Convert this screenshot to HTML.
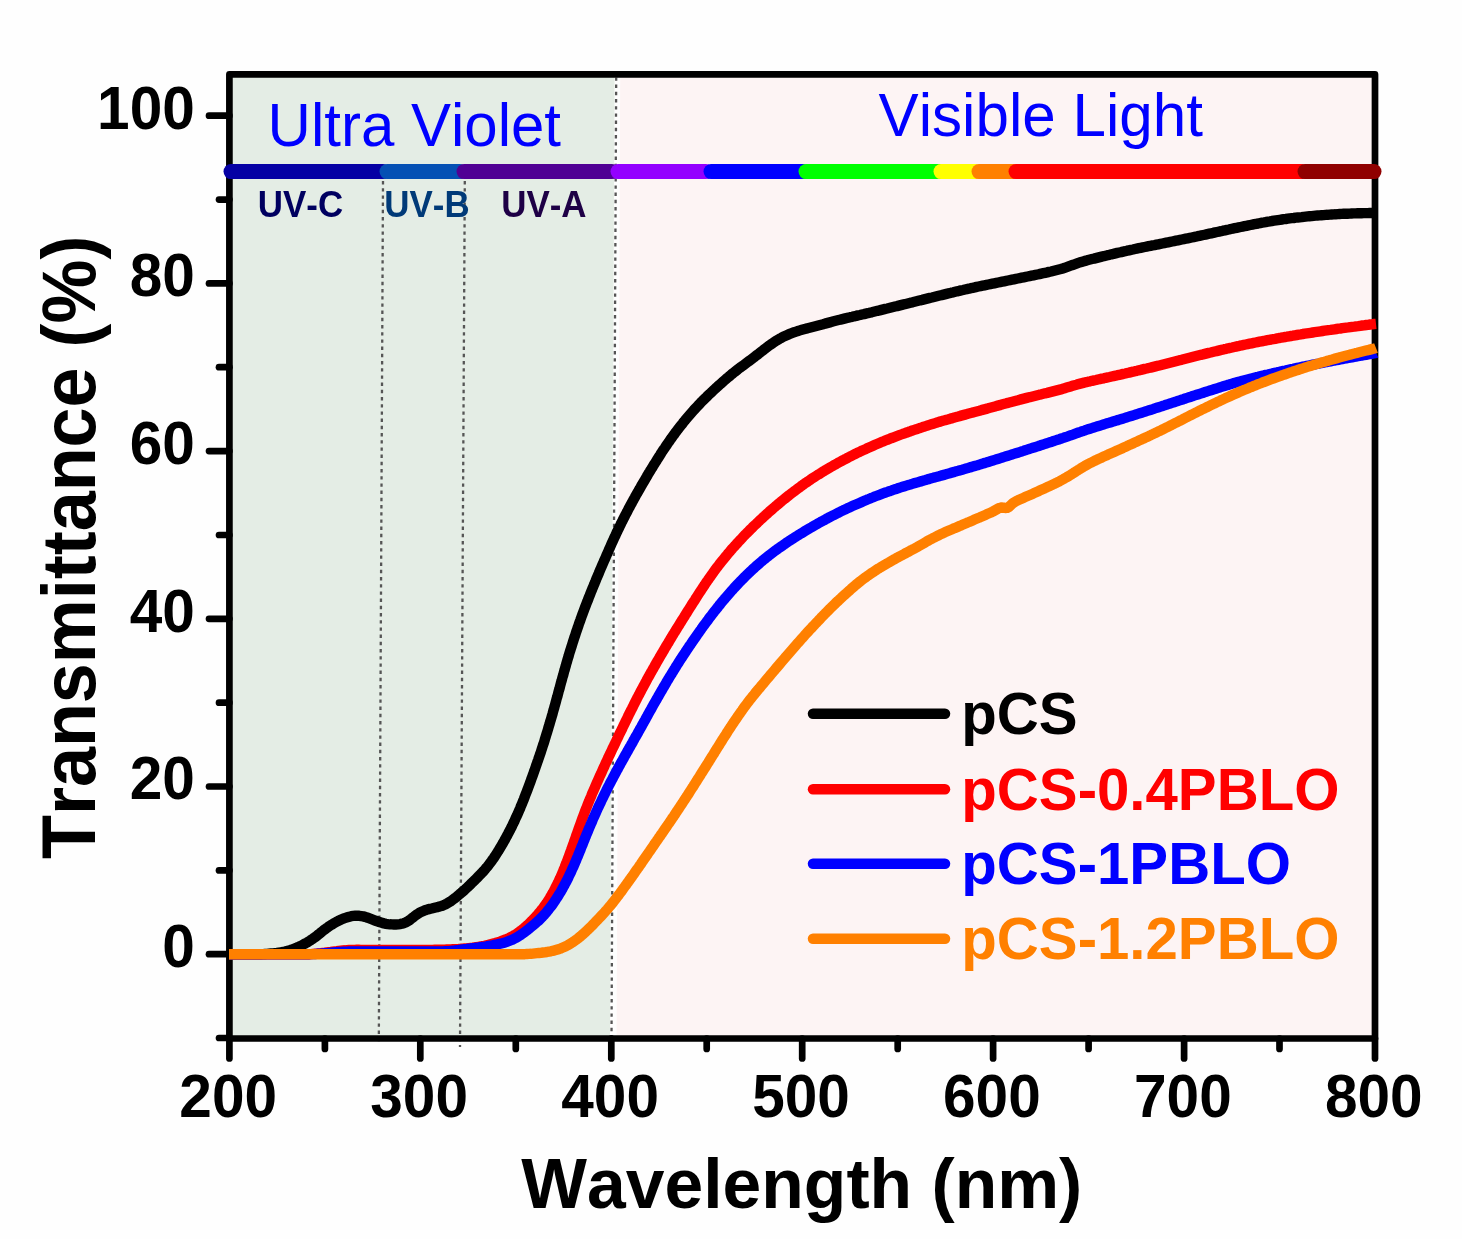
<!DOCTYPE html>
<html lang="en"><head><meta charset="utf-8"><title>Transmittance vs Wavelength</title>
<style>html,body{margin:0;padding:0;background:#fefefe;}body{width:1462px;height:1239px;overflow:hidden;}svg{display:block;}text{font-family:"Liberation Sans",Arial,Helvetica,sans-serif;font-kerning:none;}.b{font-weight:bold;}</style>
</head><body>
<svg width="1462" height="1239" viewBox="0 0 1462 1239">
<rect x="0" y="0" width="1462" height="1239" fill="#fefefe"/>
<polygon points="229.4,74.4 614.6,74.4 610.0,1038.5 229.4,1038.5" fill="#e4ede5"/>
<polygon points="620.2,74.4 1375.0,74.4 1375.0,1038.5 616.6,1038.5" fill="#fdf4f4"/>
<line x1="383.0" y1="181" x2="378.8" y2="1045" stroke="#555" stroke-width="2.3" stroke-dasharray="3.4 3.8"/>
<line x1="464.8" y1="181" x2="460" y2="1047" stroke="#555" stroke-width="2.3" stroke-dasharray="3.4 3.8"/>
<line x1="616.2" y1="77.4" x2="611.5" y2="1038" stroke="#555" stroke-width="2.3" stroke-dasharray="3.4 3.8"/>
<g stroke="#000" stroke-width="6.7" fill="none" stroke-linecap="round">
<rect x="229.4" y="74.4" width="1145.6" height="964.1" stroke-linejoin="round"/>
<line x1="209" y1="954.2" x2="229.4" y2="954.2"/>
<line x1="209" y1="786.5" x2="229.4" y2="786.5"/>
<line x1="209" y1="618.8" x2="229.4" y2="618.8"/>
<line x1="209" y1="451.1" x2="229.4" y2="451.1"/>
<line x1="209" y1="283.4" x2="229.4" y2="283.4"/>
<line x1="209" y1="115.7" x2="229.4" y2="115.7"/>
<line x1="219" y1="1038.0" x2="229.4" y2="1038.0"/>
<line x1="219" y1="870.4" x2="229.4" y2="870.4"/>
<line x1="219" y1="702.7" x2="229.4" y2="702.7"/>
<line x1="219" y1="535.0" x2="229.4" y2="535.0"/>
<line x1="219" y1="367.2" x2="229.4" y2="367.2"/>
<line x1="219" y1="199.6" x2="229.4" y2="199.6"/>
<line x1="229.4" y1="1038.5" x2="229.4" y2="1058.5"/>
<line x1="420.3" y1="1038.5" x2="420.3" y2="1058.5"/>
<line x1="611.3" y1="1038.5" x2="611.3" y2="1058.5"/>
<line x1="802.2" y1="1038.5" x2="802.2" y2="1058.5"/>
<line x1="993.1" y1="1038.5" x2="993.1" y2="1058.5"/>
<line x1="1184.1" y1="1038.5" x2="1184.1" y2="1058.5"/>
<line x1="1375.0" y1="1038.5" x2="1375.0" y2="1058.5"/>
<line x1="324.9" y1="1038.5" x2="324.9" y2="1049"/>
<line x1="515.8" y1="1038.5" x2="515.8" y2="1049"/>
<line x1="706.7" y1="1038.5" x2="706.7" y2="1049"/>
<line x1="897.7" y1="1038.5" x2="897.7" y2="1049"/>
<line x1="1088.6" y1="1038.5" x2="1088.6" y2="1049"/>
<line x1="1279.5" y1="1038.5" x2="1279.5" y2="1049"/>
</g>
<g stroke-width="15" stroke-linecap="round" fill="none">
<line x1="231" y1="171.6" x2="383" y2="171.6" stroke="#0500a4"/>
<line x1="387" y1="171.6" x2="460" y2="171.6" stroke="#0450b4"/>
<line x1="464" y1="171.6" x2="612" y2="171.6" stroke="#500094"/>
<line x1="618" y1="171.6" x2="706" y2="171.6" stroke="#9400ff"/>
<line x1="711" y1="171.6" x2="803" y2="171.6" stroke="#0000ff"/>
<line x1="806" y1="171.6" x2="940" y2="171.6" stroke="#00ff00"/>
<line x1="941" y1="171.6" x2="976" y2="171.6" stroke="#ffff00"/>
<line x1="979" y1="171.6" x2="1014" y2="171.6" stroke="#ff8000"/>
<line x1="1016" y1="171.6" x2="1302" y2="171.6" stroke="#ff0000"/>
<line x1="1305" y1="171.6" x2="1374" y2="171.6" stroke="#900000"/>
</g>
<g fill="none" stroke-width="10.4" stroke-linejoin="round" stroke-linecap="butt">
<path d="M229.0,954.3 L231.0,954.3 L233.0,954.3 L235.0,954.3 L237.0,954.3 L239.0,954.3 L241.0,954.3 L243.0,954.3 L245.0,954.3 L247.0,954.3 L249.0,954.3 L251.0,954.3 L253.0,954.3 L255.0,954.3 L257.0,954.3 L259.0,954.3 L261.0,954.2 L263.0,954.1 L265.0,954.0 L267.0,953.9 L269.0,953.7 L271.0,953.5 L273.0,953.3 L274.9,953.1 L276.9,952.9 L278.9,952.6 L280.9,952.3 L282.9,952.0 L284.8,951.6 L286.8,951.1 L288.7,950.6 L290.6,950.0 L292.5,949.3 L294.4,948.6 L296.2,947.9 L298.0,947.1 L299.9,946.2 L301.7,945.4 L303.4,944.4 L305.2,943.5 L307.0,942.5 L308.7,941.5 L310.4,940.4 L312.0,939.3 L313.7,938.2 L315.3,937.0 L316.9,935.8 L318.4,934.5 L320.0,933.3 L321.5,932.0 L323.1,930.7 L324.7,929.5 L326.3,928.3 L327.9,927.2 L329.5,926.0 L331.2,924.9 L332.9,923.9 L334.6,922.8 L336.4,921.9 L338.1,921.0 L339.9,920.1 L341.8,919.3 L343.6,918.5 L345.5,917.9 L347.4,917.3 L349.4,916.7 L351.3,916.2 L353.3,915.9 L355.3,915.7 L357.2,915.7 L359.2,915.8 L361.2,916.1 L363.2,916.4 L365.1,916.9 L367.0,917.5 L368.9,918.2 L370.8,918.9 L372.7,919.6 L374.5,920.3 L376.4,921.0 L378.3,921.7 L380.2,922.3 L382.1,922.9 L384.0,923.4 L386.0,923.8 L387.9,924.1 L389.9,924.3 L391.9,924.4 L393.9,924.5 L396.0,924.5 L398.0,924.4 L399.9,924.1 L401.9,923.7 L403.8,923.2 L405.6,922.5 L407.3,921.5 L409.0,920.5 L410.6,919.3 L412.2,918.0 L413.8,916.8 L415.4,915.5 L417.0,914.4 L418.7,913.3 L420.4,912.3 L422.2,911.5 L424.0,910.7 L425.9,910.0 L427.8,909.4 L429.8,908.9 L431.7,908.5 L433.7,908.0 L435.6,907.5 L437.6,907.1 L439.5,906.5 L441.4,906.0 L443.3,905.3 L445.1,904.5 L446.9,903.6 L448.6,902.6 L450.3,901.6 L451.9,900.4 L453.5,899.2 L455.1,898.0 L456.7,896.7 L458.2,895.4 L459.7,894.1 L461.3,892.8 L462.8,891.5 L464.3,890.2 L465.8,888.8 L467.2,887.5 L468.7,886.1 L470.1,884.7 L471.5,883.3 L473.0,881.9 L474.4,880.5 L475.8,879.1 L477.2,877.7 L478.6,876.3 L479.9,874.9 L481.3,873.5 L482.6,872.1 L484.0,870.6 L485.3,869.1 L486.5,867.6 L487.8,866.1 L489.0,864.5 L490.2,862.9 L491.4,861.3 L492.5,859.7 L493.7,858.1 L494.8,856.4 L495.9,854.7 L497.0,853.0 L498.1,851.3 L499.1,849.6 L500.2,847.8 L501.2,846.1 L502.2,844.4 L503.2,842.6 L504.2,840.9 L505.2,839.1 L506.1,837.4 L507.1,835.6 L508.0,833.9 L508.9,832.1 L509.9,830.3 L510.8,828.5 L511.7,826.8 L512.5,825.0 L513.4,823.2 L514.3,821.4 L515.1,819.5 L515.9,817.7 L516.8,815.9 L517.6,814.1 L518.4,812.2 L519.2,810.4 L520.0,808.6 L520.7,806.7 L521.5,804.9 L522.3,803.0 L523.0,801.1 L523.8,799.3 L524.5,797.4 L525.2,795.5 L525.9,793.7 L526.7,791.8 L527.4,789.9 L528.1,788.0 L528.8,786.2 L529.5,784.3 L530.2,782.4 L530.9,780.5 L531.5,778.6 L532.2,776.8 L532.9,774.9 L533.6,773.0 L534.2,771.1 L534.9,769.2 L535.6,767.3 L536.2,765.4 L536.9,763.5 L537.5,761.6 L538.2,759.8 L538.8,757.9 L539.5,756.0 L540.1,754.1 L540.8,752.2 L541.4,750.3 L542.0,748.4 L542.6,746.5 L543.2,744.6 L543.9,742.7 L544.5,740.8 L545.0,738.9 L545.6,736.9 L546.2,735.0 L546.8,733.1 L547.4,731.2 L548.0,729.3 L548.5,727.4 L549.1,725.5 L549.7,723.5 L550.2,721.6 L550.8,719.7 L551.4,717.8 L551.9,715.9 L552.5,713.9 L553.0,712.0 L553.5,710.1 L554.1,708.2 L554.6,706.2 L555.2,704.3 L555.7,702.4 L556.2,700.4 L556.7,698.5 L557.3,696.6 L557.8,694.7 L558.3,692.7 L558.8,690.8 L559.4,688.9 L559.9,686.9 L560.4,685.0 L560.9,683.1 L561.5,681.1 L562.0,679.2 L562.5,677.3 L563.1,675.4 L563.6,673.4 L564.1,671.5 L564.7,669.6 L565.2,667.7 L565.8,665.7 L566.3,663.8 L566.9,661.9 L567.4,660.0 L568.0,658.0 L568.6,656.1 L569.1,654.2 L569.7,652.3 L570.3,650.4 L570.9,648.5 L571.5,646.6 L572.1,644.7 L572.7,642.8 L573.3,640.9 L573.9,639.0 L574.5,637.1 L575.2,635.2 L575.8,633.3 L576.4,631.4 L577.1,629.5 L577.7,627.6 L578.4,625.7 L579.0,623.8 L579.7,621.9 L580.4,620.0 L581.0,618.2 L581.7,616.3 L582.4,614.4 L583.1,612.5 L583.8,610.7 L584.5,608.8 L585.2,606.9 L585.9,605.1 L586.6,603.2 L587.4,601.3 L588.1,599.5 L588.8,597.6 L589.6,595.7 L590.3,593.9 L591.0,592.0 L591.8,590.2 L592.5,588.3 L593.3,586.5 L594.1,584.6 L594.8,582.8 L595.6,580.9 L596.3,579.1 L597.1,577.2 L597.9,575.4 L598.7,573.5 L599.4,571.7 L600.2,569.8 L601.0,568.0 L601.8,566.2 L602.6,564.3 L603.4,562.5 L604.2,560.6 L605.0,558.8 L605.8,557.0 L606.6,555.1 L607.4,553.3 L608.2,551.5 L609.0,549.6 L609.8,547.8 L610.6,546.0 L611.4,544.2 L612.2,542.3 L613.1,540.5 L613.9,538.7 L614.7,536.9 L615.6,535.1 L616.4,533.2 L617.3,531.4 L618.1,529.6 L619.0,527.8 L619.9,526.0 L620.8,524.2 L621.6,522.4 L622.5,520.7 L623.4,518.9 L624.3,517.1 L625.2,515.3 L626.2,513.5 L627.1,511.8 L628.0,510.0 L628.9,508.2 L629.9,506.5 L630.8,504.7 L631.8,503.0 L632.7,501.2 L633.7,499.4 L634.7,497.7 L635.6,495.9 L636.6,494.2 L637.6,492.5 L638.6,490.7 L639.6,489.0 L640.6,487.2 L641.5,485.5 L642.5,483.8 L643.6,482.0 L644.6,480.3 L645.6,478.6 L646.6,476.9 L647.6,475.1 L648.6,473.4 L649.7,471.7 L650.7,470.0 L651.8,468.3 L652.8,466.6 L653.8,464.9 L654.9,463.2 L656.0,461.5 L657.0,459.8 L658.1,458.1 L659.2,456.4 L660.3,454.7 L661.3,453.0 L662.4,451.3 L663.5,449.6 L664.7,448.0 L665.8,446.3 L666.9,444.7 L668.0,443.0 L669.2,441.4 L670.3,439.7 L671.5,438.1 L672.6,436.5 L673.8,434.9 L675.0,433.2 L676.2,431.6 L677.4,430.0 L678.6,428.5 L679.8,426.9 L681.0,425.3 L682.3,423.8 L683.5,422.2 L684.8,420.7 L686.0,419.1 L687.3,417.6 L688.6,416.1 L689.9,414.6 L691.2,413.1 L692.5,411.6 L693.8,410.1 L695.2,408.6 L696.5,407.2 L697.9,405.7 L699.3,404.3 L700.6,402.8 L702.0,401.4 L703.4,400.0 L704.8,398.6 L706.3,397.2 L707.7,395.8 L709.1,394.4 L710.6,393.1 L712.0,391.7 L713.5,390.3 L714.9,389.0 L716.4,387.6 L717.9,386.3 L719.4,384.9 L720.9,383.6 L722.4,382.2 L723.9,380.9 L725.4,379.6 L726.9,378.3 L728.5,377.0 L730.0,375.7 L731.5,374.4 L733.1,373.1 L734.7,371.9 L736.3,370.6 L737.8,369.4 L739.4,368.2 L741.0,367.0 L742.7,365.8 L744.3,364.6 L745.9,363.4 L747.5,362.2 L749.1,361.0 L750.7,359.8 L752.3,358.6 L753.9,357.4 L755.4,356.2 L757.0,355.0 L758.6,353.8 L760.2,352.5 L761.7,351.3 L763.3,350.1 L764.9,348.8 L766.5,347.6 L768.1,346.4 L769.7,345.2 L771.3,344.1 L773.0,342.9 L774.6,341.8 L776.3,340.7 L778.0,339.7 L779.7,338.7 L781.5,337.8 L783.2,336.8 L785.0,336.0 L786.8,335.2 L788.7,334.4 L790.5,333.6 L792.4,332.9 L794.2,332.2 L796.1,331.6 L798.0,331.0 L799.9,330.4 L801.9,329.8 L803.8,329.3 L805.7,328.8 L807.6,328.2 L809.6,327.7 L811.5,327.2 L813.5,326.7 L815.4,326.2 L817.3,325.7 L819.2,325.2 L821.2,324.7 L823.1,324.2 L825.0,323.6 L826.9,323.1 L828.8,322.6 L830.8,322.1 L832.7,321.5 L834.6,321.0 L836.6,320.5 L838.5,320.0 L840.4,319.6 L842.4,319.1 L844.3,318.6 L846.3,318.1 L848.3,317.7 L850.2,317.2 L852.2,316.8 L854.1,316.3 L856.1,315.9 L858.0,315.4 L860.0,315.0 L861.9,314.5 L863.9,314.1 L865.9,313.6 L867.8,313.2 L869.8,312.7 L871.7,312.3 L873.6,311.8 L875.6,311.3 L877.5,310.8 L879.5,310.4 L881.4,309.9 L883.4,309.4 L885.3,308.9 L887.2,308.5 L889.2,308.0 L891.1,307.5 L893.1,307.0 L895.0,306.5 L897.0,306.1 L898.9,305.6 L900.8,305.1 L902.8,304.6 L904.7,304.2 L906.7,303.7 L908.6,303.2 L910.6,302.7 L912.5,302.3 L914.4,301.8 L916.4,301.3 L918.3,300.8 L920.3,300.3 L922.2,299.9 L924.1,299.4 L926.1,298.9 L928.0,298.4 L930.0,297.9 L931.9,297.5 L933.9,297.0 L935.8,296.5 L937.7,296.0 L939.7,295.5 L941.6,295.1 L943.6,294.6 L945.5,294.1 L947.5,293.6 L949.4,293.2 L951.3,292.7 L953.3,292.3 L955.2,291.8 L957.2,291.3 L959.1,290.9 L961.1,290.4 L963.0,290.0 L965.0,289.5 L966.9,289.1 L968.9,288.7 L970.8,288.2 L972.8,287.8 L974.7,287.4 L976.7,286.9 L978.6,286.5 L980.6,286.1 L982.6,285.7 L984.5,285.3 L986.5,284.9 L988.4,284.5 L990.4,284.1 L992.4,283.7 L994.3,283.3 L996.3,282.9 L998.2,282.5 L1000.2,282.1 L1002.2,281.7 L1004.1,281.3 L1006.1,280.9 L1008.0,280.5 L1010.0,280.1 L1012.0,279.7 L1013.9,279.3 L1015.9,278.9 L1017.8,278.5 L1019.8,278.1 L1021.7,277.7 L1023.7,277.3 L1025.7,276.9 L1027.6,276.5 L1029.6,276.1 L1031.5,275.7 L1033.5,275.3 L1035.4,274.9 L1037.4,274.5 L1039.3,274.1 L1041.3,273.6 L1043.3,273.2 L1045.2,272.8 L1047.2,272.4 L1049.1,271.9 L1051.1,271.5 L1053.0,271.0 L1055.0,270.5 L1056.9,270.0 L1058.9,269.5 L1060.8,269.0 L1062.8,268.4 L1064.7,267.8 L1066.7,267.1 L1068.6,266.4 L1070.6,265.7 L1072.5,265.0 L1074.5,264.3 L1076.4,263.6 L1078.4,262.9 L1080.3,262.3 L1082.3,261.7 L1084.2,261.1 L1086.2,260.6 L1088.1,260.0 L1090.1,259.5 L1092.0,259.0 L1094.0,258.6 L1095.9,258.1 L1097.8,257.6 L1099.8,257.1 L1101.7,256.6 L1103.7,256.2 L1105.6,255.7 L1107.6,255.2 L1109.5,254.8 L1111.5,254.3 L1113.4,253.9 L1115.4,253.4 L1117.3,252.9 L1119.3,252.5 L1121.2,252.1 L1123.2,251.6 L1125.1,251.2 L1127.1,250.7 L1129.0,250.3 L1131.0,249.9 L1132.9,249.5 L1134.9,249.0 L1136.8,248.6 L1138.8,248.2 L1140.7,247.8 L1142.7,247.4 L1144.7,247.0 L1146.6,246.6 L1148.6,246.2 L1150.5,245.8 L1152.5,245.4 L1154.5,245.1 L1156.4,244.7 L1158.4,244.3 L1160.4,243.9 L1162.3,243.5 L1164.3,243.1 L1166.2,242.7 L1168.2,242.3 L1170.2,241.9 L1172.1,241.5 L1174.1,241.1 L1176.0,240.7 L1178.0,240.3 L1180.0,239.9 L1181.9,239.5 L1183.9,239.1 L1185.8,238.7 L1187.8,238.3 L1189.8,237.9 L1191.7,237.5 L1193.7,237.1 L1195.6,236.7 L1197.6,236.2 L1199.5,235.8 L1201.5,235.4 L1203.4,235.0 L1205.4,234.6 L1207.4,234.1 L1209.3,233.7 L1211.3,233.3 L1213.2,232.9 L1215.2,232.4 L1217.1,232.0 L1219.1,231.6 L1221.0,231.2 L1223.0,230.7 L1225.0,230.3 L1226.9,229.9 L1228.9,229.5 L1230.8,229.0 L1232.8,228.6 L1234.7,228.2 L1236.7,227.8 L1238.6,227.4 L1240.6,227.0 L1242.6,226.6 L1244.5,226.2 L1246.5,225.8 L1248.4,225.4 L1250.4,225.0 L1252.4,224.6 L1254.3,224.2 L1256.3,223.8 L1258.2,223.5 L1260.2,223.1 L1262.2,222.7 L1264.1,222.4 L1266.1,222.0 L1268.1,221.7 L1270.0,221.4 L1272.0,221.0 L1274.0,220.7 L1276.0,220.4 L1277.9,220.1 L1279.9,219.8 L1281.9,219.5 L1283.8,219.2 L1285.8,219.0 L1287.8,218.7 L1289.8,218.4 L1291.8,218.2 L1293.8,218.0 L1295.7,217.7 L1297.7,217.5 L1299.7,217.3 L1301.7,217.1 L1303.7,216.8 L1305.7,216.6 L1307.7,216.4 L1309.6,216.2 L1311.6,216.1 L1313.6,215.9 L1315.6,215.7 L1317.6,215.5 L1319.6,215.4 L1321.6,215.2 L1323.6,215.1 L1325.6,214.9 L1327.6,214.8 L1329.6,214.6 L1331.6,214.5 L1333.6,214.4 L1335.6,214.3 L1337.6,214.1 L1339.6,214.0 L1341.6,213.9 L1343.6,213.8 L1345.6,213.7 L1347.6,213.7 L1349.6,213.6 L1351.6,213.5 L1353.6,213.4 L1355.6,213.4 L1357.6,213.3 L1359.6,213.2 L1361.6,213.2 L1363.6,213.1 L1365.6,213.1 L1367.6,213.1 L1369.6,213.0 L1371.6,213.0 L1373.6,213.0 L1375.5,213.0" stroke="#000"/>
<path d="M229.0,954.3 L231.0,954.3 L233.0,954.3 L235.0,954.3 L237.0,954.3 L239.0,954.3 L241.0,954.3 L243.0,954.3 L245.0,954.3 L247.0,954.3 L249.0,954.3 L251.0,954.3 L253.0,954.3 L255.0,954.3 L257.0,954.3 L259.0,954.3 L261.0,954.3 L263.0,954.3 L265.0,954.3 L267.0,954.3 L269.0,954.3 L271.0,954.3 L273.0,954.3 L275.0,954.3 L277.0,954.3 L279.0,954.3 L281.0,954.3 L283.0,954.3 L285.0,954.3 L287.0,954.3 L289.0,954.3 L291.0,954.3 L293.0,954.3 L295.0,954.3 L297.0,954.3 L299.0,954.3 L301.0,954.3 L303.0,954.3 L305.0,954.3 L307.0,954.2 L309.0,954.2 L311.0,954.1 L313.0,953.9 L315.0,953.8 L317.0,953.6 L319.0,953.4 L320.9,953.2 L322.9,952.9 L324.9,952.7 L326.9,952.4 L328.9,952.1 L330.9,951.9 L332.8,951.6 L334.8,951.3 L336.8,951.1 L338.8,950.8 L340.8,950.6 L342.8,950.4 L344.8,950.3 L346.8,950.1 L348.8,950.0 L350.7,949.9 L352.7,949.9 L354.7,949.9 L356.7,949.8 L358.7,949.8 L360.7,949.9 L362.7,949.9 L364.7,949.9 L366.7,949.9 L368.7,949.9 L370.7,949.9 L372.7,949.9 L374.7,949.9 L376.7,949.9 L378.7,949.9 L380.7,949.9 L382.7,949.9 L384.7,949.9 L386.7,949.9 L388.7,949.9 L390.7,949.9 L392.7,949.9 L394.7,949.9 L396.7,949.9 L398.7,949.9 L400.7,949.9 L402.7,949.9 L404.7,949.9 L406.7,949.9 L408.7,949.9 L410.7,949.9 L412.7,949.9 L414.7,949.9 L416.7,949.9 L418.7,949.9 L420.7,949.9 L422.7,949.9 L424.7,949.9 L426.7,949.9 L428.7,949.9 L430.7,949.9 L432.7,949.9 L434.7,949.8 L436.7,949.8 L438.7,949.8 L440.7,949.7 L442.7,949.6 L444.7,949.6 L446.7,949.5 L448.7,949.4 L450.7,949.4 L452.7,949.3 L454.7,949.2 L456.7,949.1 L458.7,949.0 L460.7,948.8 L462.7,948.7 L464.7,948.5 L466.7,948.3 L468.7,948.1 L470.7,947.9 L472.7,947.7 L474.7,947.4 L476.6,947.1 L478.6,946.8 L480.6,946.5 L482.5,946.1 L484.5,945.8 L486.5,945.3 L488.4,944.9 L490.4,944.4 L492.3,943.9 L494.2,943.4 L496.1,942.8 L498.1,942.2 L500.0,941.6 L501.8,940.9 L503.7,940.2 L505.6,939.5 L507.4,938.7 L509.2,937.9 L511.0,937.0 L512.8,936.1 L514.5,935.1 L516.2,934.0 L517.9,932.9 L519.5,931.7 L521.1,930.5 L522.6,929.3 L524.2,928.0 L525.7,926.7 L527.1,925.4 L528.6,924.1 L530.0,922.7 L531.4,921.3 L532.8,919.9 L534.1,918.5 L535.5,917.0 L536.8,915.6 L538.1,914.1 L539.3,912.6 L540.6,911.1 L541.8,909.6 L543.0,908.0 L544.2,906.4 L545.3,904.8 L546.5,903.2 L547.6,901.5 L548.6,899.9 L549.7,898.2 L550.7,896.5 L551.7,894.7 L552.7,893.0 L553.7,891.2 L554.6,889.5 L555.5,887.7 L556.4,885.9 L557.3,884.1 L558.2,882.3 L559.0,880.5 L559.9,878.6 L560.7,876.8 L561.5,874.9 L562.3,873.1 L563.1,871.2 L563.8,869.3 L564.6,867.5 L565.3,865.6 L566.0,863.7 L566.8,861.9 L567.5,860.0 L568.2,858.1 L568.9,856.2 L569.6,854.3 L570.3,852.4 L571.0,850.5 L571.6,848.7 L572.3,846.8 L573.0,844.9 L573.7,843.0 L574.3,841.1 L575.0,839.2 L575.7,837.3 L576.3,835.4 L577.0,833.5 L577.7,831.6 L578.3,829.7 L579.0,827.8 L579.7,826.0 L580.4,824.1 L581.0,822.2 L581.7,820.3 L582.4,818.4 L583.1,816.5 L583.8,814.7 L584.5,812.8 L585.2,810.9 L585.9,809.1 L586.7,807.2 L587.4,805.3 L588.1,803.5 L588.9,801.6 L589.6,799.8 L590.4,797.9 L591.2,796.1 L591.9,794.2 L592.7,792.4 L593.5,790.6 L594.3,788.7 L595.1,786.9 L595.9,785.0 L596.7,783.2 L597.5,781.4 L598.3,779.6 L599.1,777.7 L599.9,775.9 L600.8,774.1 L601.6,772.3 L602.4,770.4 L603.2,768.6 L604.1,766.8 L604.9,765.0 L605.7,763.2 L606.6,761.4 L607.4,759.5 L608.3,757.7 L609.1,755.9 L610.0,754.1 L610.8,752.3 L611.7,750.5 L612.5,748.7 L613.4,746.9 L614.3,745.1 L615.1,743.3 L616.0,741.5 L616.8,739.7 L617.7,737.9 L618.6,736.0 L619.4,734.2 L620.3,732.4 L621.2,730.6 L622.1,728.8 L622.9,727.0 L623.8,725.2 L624.7,723.4 L625.5,721.6 L626.4,719.8 L627.3,718.0 L628.2,716.2 L629.0,714.4 L629.9,712.6 L630.8,710.8 L631.7,709.1 L632.6,707.3 L633.5,705.5 L634.4,703.7 L635.3,701.9 L636.2,700.1 L637.1,698.3 L638.0,696.6 L639.0,694.8 L639.9,693.0 L640.8,691.3 L641.7,689.5 L642.7,687.7 L643.6,686.0 L644.6,684.2 L645.5,682.5 L646.5,680.7 L647.4,678.9 L648.4,677.2 L649.4,675.4 L650.3,673.7 L651.3,672.0 L652.3,670.2 L653.3,668.5 L654.3,666.7 L655.3,665.0 L656.2,663.3 L657.2,661.5 L658.2,659.8 L659.2,658.1 L660.2,656.3 L661.2,654.6 L662.3,652.9 L663.3,651.2 L664.3,649.4 L665.3,647.7 L666.3,646.0 L667.3,644.3 L668.4,642.6 L669.4,640.8 L670.4,639.1 L671.5,637.4 L672.5,635.7 L673.5,634.0 L674.6,632.3 L675.6,630.6 L676.7,628.9 L677.7,627.2 L678.8,625.5 L679.8,623.8 L680.9,622.1 L681.9,620.4 L683.0,618.7 L684.1,617.0 L685.1,615.3 L686.2,613.6 L687.3,611.9 L688.3,610.2 L689.4,608.5 L690.5,606.8 L691.5,605.1 L692.6,603.4 L693.7,601.7 L694.8,600.1 L695.8,598.4 L696.9,596.7 L698.0,595.0 L699.1,593.3 L700.2,591.6 L701.3,590.0 L702.4,588.3 L703.5,586.6 L704.6,585.0 L705.7,583.3 L706.8,581.6 L708.0,580.0 L709.1,578.4 L710.3,576.7 L711.4,575.1 L712.6,573.5 L713.7,571.9 L714.9,570.2 L716.1,568.6 L717.3,567.1 L718.5,565.5 L719.7,563.9 L721.0,562.3 L722.2,560.8 L723.5,559.2 L724.7,557.7 L726.0,556.1 L727.3,554.6 L728.5,553.1 L729.8,551.6 L731.1,550.0 L732.4,548.5 L733.8,547.0 L735.1,545.6 L736.4,544.1 L737.8,542.6 L739.1,541.1 L740.5,539.7 L741.9,538.2 L743.2,536.8 L744.6,535.3 L746.0,533.9 L747.4,532.5 L748.8,531.1 L750.2,529.6 L751.7,528.2 L753.1,526.8 L754.5,525.4 L756.0,524.1 L757.4,522.7 L758.9,521.3 L760.3,519.9 L761.8,518.6 L763.2,517.2 L764.7,515.9 L766.2,514.5 L767.7,513.2 L769.2,511.8 L770.7,510.5 L772.2,509.2 L773.7,507.9 L775.2,506.6 L776.8,505.3 L778.3,504.0 L779.8,502.7 L781.4,501.4 L782.9,500.1 L784.5,498.9 L786.1,497.6 L787.6,496.4 L789.2,495.1 L790.8,493.9 L792.4,492.7 L793.9,491.5 L795.5,490.3 L797.1,489.1 L798.7,487.9 L800.4,486.7 L802.0,485.5 L803.6,484.4 L805.2,483.2 L806.9,482.1 L808.5,481.0 L810.2,479.9 L811.8,478.7 L813.5,477.6 L815.1,476.6 L816.8,475.5 L818.5,474.4 L820.2,473.4 L821.9,472.3 L823.6,471.3 L825.3,470.2 L827.0,469.2 L828.7,468.2 L830.4,467.2 L832.2,466.2 L833.9,465.2 L835.6,464.3 L837.4,463.3 L839.1,462.3 L840.9,461.4 L842.7,460.4 L844.4,459.5 L846.2,458.6 L848.0,457.6 L849.8,456.7 L851.5,455.8 L853.3,454.9 L855.1,454.0 L856.9,453.1 L858.7,452.3 L860.5,451.4 L862.3,450.5 L864.2,449.7 L866.0,448.9 L867.8,448.0 L869.6,447.2 L871.4,446.4 L873.3,445.6 L875.1,444.8 L877.0,444.0 L878.8,443.2 L880.6,442.4 L882.5,441.7 L884.3,440.9 L886.2,440.2 L888.1,439.5 L889.9,438.7 L891.8,438.0 L893.6,437.3 L895.5,436.6 L897.4,435.9 L899.3,435.2 L901.1,434.5 L903.0,433.8 L904.9,433.2 L906.8,432.5 L908.7,431.8 L910.5,431.2 L912.4,430.5 L914.3,429.9 L916.2,429.3 L918.1,428.6 L920.0,428.0 L921.9,427.4 L923.8,426.7 L925.7,426.1 L927.6,425.5 L929.5,424.9 L931.4,424.3 L933.3,423.7 L935.2,423.1 L937.1,422.5 L939.0,421.9 L940.9,421.4 L942.8,420.8 L944.8,420.3 L946.7,419.7 L948.6,419.2 L950.5,418.6 L952.5,418.1 L954.4,417.5 L956.3,417.0 L958.2,416.5 L960.2,415.9 L962.1,415.4 L964.0,414.9 L966.0,414.4 L967.9,413.8 L969.8,413.3 L971.8,412.8 L973.7,412.2 L975.6,411.7 L977.6,411.2 L979.5,410.7 L981.4,410.1 L983.3,409.6 L985.3,409.1 L987.2,408.6 L989.1,408.0 L991.1,407.5 L993.0,407.0 L994.9,406.5 L996.8,405.9 L998.8,405.4 L1000.7,404.9 L1002.6,404.3 L1004.6,403.8 L1006.5,403.3 L1008.4,402.7 L1010.3,402.2 L1012.3,401.7 L1014.2,401.2 L1016.1,400.7 L1018.1,400.2 L1020.0,399.6 L1021.9,399.1 L1023.9,398.6 L1025.8,398.1 L1027.7,397.6 L1029.7,397.2 L1031.6,396.7 L1033.6,396.2 L1035.5,395.7 L1037.4,395.2 L1039.4,394.7 L1041.3,394.3 L1043.3,393.8 L1045.2,393.3 L1047.2,392.9 L1049.1,392.4 L1051.1,391.9 L1053.0,391.4 L1055.0,390.9 L1056.9,390.4 L1058.9,389.9 L1060.8,389.4 L1062.8,388.8 L1064.7,388.2 L1066.7,387.6 L1068.6,387.0 L1070.6,386.4 L1072.5,385.8 L1074.5,385.2 L1076.4,384.7 L1078.4,384.1 L1080.3,383.6 L1082.3,383.1 L1084.2,382.6 L1086.2,382.2 L1088.1,381.7 L1090.1,381.3 L1092.1,380.8 L1094.0,380.4 L1096.0,380.0 L1097.9,379.5 L1099.9,379.1 L1101.8,378.7 L1103.8,378.3 L1105.7,377.8 L1107.7,377.4 L1109.6,377.0 L1111.6,376.5 L1113.5,376.1 L1115.5,375.7 L1117.4,375.2 L1119.4,374.8 L1121.4,374.4 L1123.3,373.9 L1125.3,373.5 L1127.2,373.0 L1129.1,372.6 L1131.1,372.1 L1133.0,371.7 L1135.0,371.2 L1136.9,370.8 L1138.9,370.3 L1140.8,369.9 L1142.8,369.4 L1144.7,368.9 L1146.7,368.5 L1148.6,368.0 L1150.6,367.6 L1152.5,367.1 L1154.5,366.6 L1156.4,366.1 L1158.3,365.7 L1160.3,365.2 L1162.2,364.7 L1164.2,364.2 L1166.1,363.7 L1168.0,363.2 L1170.0,362.7 L1171.9,362.2 L1173.9,361.7 L1175.8,361.2 L1177.7,360.7 L1179.7,360.2 L1181.6,359.8 L1183.5,359.3 L1185.5,358.8 L1187.4,358.3 L1189.4,357.8 L1191.3,357.3 L1193.2,356.8 L1195.2,356.3 L1197.1,355.8 L1199.1,355.3 L1201.0,354.8 L1202.9,354.4 L1204.9,353.9 L1206.8,353.4 L1208.8,352.9 L1210.7,352.5 L1212.6,352.0 L1214.6,351.5 L1216.5,351.1 L1218.5,350.6 L1220.4,350.1 L1222.4,349.7 L1224.3,349.2 L1226.3,348.8 L1228.2,348.3 L1230.2,347.9 L1232.1,347.5 L1234.1,347.0 L1236.0,346.6 L1238.0,346.2 L1239.9,345.7 L1241.9,345.3 L1243.8,344.9 L1245.8,344.5 L1247.7,344.1 L1249.7,343.7 L1251.7,343.3 L1253.6,342.9 L1255.6,342.5 L1257.5,342.1 L1259.5,341.7 L1261.5,341.3 L1263.4,341.0 L1265.4,340.6 L1267.4,340.2 L1269.3,339.8 L1271.3,339.5 L1273.3,339.1 L1275.2,338.8 L1277.2,338.4 L1279.2,338.0 L1281.1,337.7 L1283.1,337.3 L1285.1,337.0 L1287.0,336.7 L1289.0,336.3 L1291.0,336.0 L1293.0,335.7 L1294.9,335.3 L1296.9,335.0 L1298.9,334.7 L1300.9,334.4 L1302.8,334.0 L1304.8,333.7 L1306.8,333.4 L1308.8,333.1 L1310.7,332.8 L1312.7,332.5 L1314.7,332.2 L1316.7,331.9 L1318.7,331.6 L1320.6,331.3 L1322.6,331.0 L1324.6,330.7 L1326.6,330.4 L1328.5,330.1 L1330.5,329.9 L1332.5,329.6 L1334.5,329.3 L1336.5,329.0 L1338.4,328.7 L1340.4,328.5 L1342.4,328.2 L1344.4,327.9 L1346.4,327.6 L1348.3,327.4 L1350.3,327.1 L1352.3,326.8 L1354.3,326.6 L1356.3,326.3 L1358.2,326.1 L1360.2,325.8 L1362.2,325.5 L1364.2,325.3 L1366.2,325.0 L1368.1,324.8 L1370.1,324.5 L1372.1,324.3 L1374.1,324.0 L1376.0,323.8" stroke="#ff0000"/>
<path d="M229.0,954.3 L231.0,954.3 L233.0,954.3 L235.0,954.3 L237.0,954.3 L239.0,954.3 L241.0,954.3 L243.0,954.3 L245.0,954.3 L247.0,954.3 L249.0,954.3 L251.0,954.3 L253.0,954.3 L255.0,954.3 L257.0,954.3 L259.0,954.3 L261.0,954.3 L263.0,954.3 L265.0,954.3 L267.0,954.3 L269.0,954.3 L271.0,954.3 L273.0,954.3 L275.0,954.3 L277.0,954.3 L279.0,954.3 L281.0,954.3 L283.0,954.3 L285.0,954.3 L287.0,954.3 L289.0,954.3 L291.0,954.3 L293.0,954.3 L295.0,954.3 L297.0,954.3 L299.0,954.3 L301.0,954.3 L303.0,954.3 L305.0,954.3 L307.0,954.3 L309.0,954.2 L311.0,954.1 L313.0,954.1 L315.0,954.0 L317.0,953.8 L319.0,953.7 L321.0,953.6 L323.0,953.4 L325.0,953.2 L327.0,953.1 L328.9,952.9 L330.9,952.7 L332.9,952.5 L334.9,952.3 L336.9,952.2 L338.9,952.0 L340.9,951.9 L342.9,951.8 L344.9,951.7 L346.9,951.6 L348.9,951.5 L350.9,951.4 L352.9,951.4 L354.9,951.4 L356.9,951.4 L358.9,951.4 L360.9,951.4 L362.9,951.4 L364.9,951.4 L366.9,951.4 L368.9,951.4 L370.9,951.4 L372.9,951.4 L374.9,951.4 L376.9,951.4 L378.9,951.4 L380.9,951.4 L382.9,951.4 L384.9,951.4 L386.9,951.4 L388.9,951.4 L390.9,951.4 L392.9,951.4 L394.9,951.4 L396.9,951.4 L398.9,951.4 L400.9,951.4 L402.9,951.4 L404.9,951.4 L406.9,951.4 L408.9,951.4 L410.9,951.4 L412.9,951.4 L414.9,951.4 L416.9,951.4 L418.9,951.4 L420.9,951.4 L422.9,951.4 L424.9,951.4 L426.9,951.4 L428.9,951.4 L430.9,951.4 L432.9,951.4 L434.9,951.5 L436.9,951.5 L438.9,951.5 L440.9,951.5 L442.9,951.4 L444.9,951.3 L446.9,951.2 L448.9,951.1 L450.9,950.9 L452.8,950.7 L454.8,950.5 L456.8,950.2 L458.8,950.0 L460.8,949.7 L462.8,949.4 L464.7,949.1 L466.7,948.9 L468.7,948.6 L470.7,948.4 L472.7,948.1 L474.7,947.9 L476.6,947.6 L478.6,947.4 L480.6,947.1 L482.6,946.8 L484.6,946.6 L486.5,946.3 L488.5,945.9 L490.5,945.6 L492.5,945.3 L494.4,944.9 L496.4,944.5 L498.4,944.1 L500.3,943.7 L502.3,943.2 L504.2,942.7 L506.1,942.1 L508.0,941.4 L509.9,940.7 L511.7,940.0 L513.5,939.1 L515.3,938.2 L517.0,937.2 L518.7,936.2 L520.4,935.1 L522.0,934.0 L523.7,932.8 L525.3,931.6 L526.9,930.4 L528.4,929.2 L530.0,927.9 L531.5,926.6 L533.1,925.4 L534.6,924.1 L536.1,922.8 L537.5,921.5 L539.0,920.2 L540.4,918.8 L541.8,917.4 L543.1,916.0 L544.4,914.6 L545.7,913.1 L547.0,911.6 L548.2,910.1 L549.4,908.5 L550.6,906.9 L551.8,905.4 L553.0,903.7 L554.1,902.1 L555.2,900.5 L556.3,898.8 L557.4,897.1 L558.5,895.4 L559.5,893.7 L560.6,892.0 L561.6,890.2 L562.6,888.5 L563.5,886.7 L564.5,885.0 L565.4,883.2 L566.4,881.4 L567.3,879.6 L568.2,877.8 L569.0,876.0 L569.9,874.2 L570.8,872.4 L571.6,870.5 L572.4,868.7 L573.3,866.9 L574.1,865.0 L574.9,863.2 L575.7,861.3 L576.4,859.5 L577.2,857.6 L578.0,855.8 L578.7,853.9 L579.5,852.0 L580.3,850.2 L581.0,848.3 L581.7,846.4 L582.5,844.6 L583.2,842.7 L584.0,840.8 L584.7,839.0 L585.5,837.1 L586.2,835.2 L587.0,833.4 L587.8,831.5 L588.5,829.7 L589.3,827.8 L590.1,826.0 L590.9,824.1 L591.7,822.3 L592.4,820.5 L593.2,818.6 L594.0,816.8 L594.9,815.0 L595.7,813.2 L596.5,811.3 L597.3,809.5 L598.1,807.7 L599.0,805.9 L599.8,804.1 L600.7,802.3 L601.5,800.5 L602.4,798.7 L603.3,796.9 L604.1,795.1 L605.0,793.3 L605.9,791.5 L606.8,789.7 L607.7,787.9 L608.6,786.1 L609.5,784.4 L610.4,782.6 L611.4,780.8 L612.3,779.1 L613.2,777.3 L614.2,775.5 L615.1,773.8 L616.1,772.0 L617.0,770.2 L618.0,768.5 L618.9,766.7 L619.9,765.0 L620.8,763.2 L621.8,761.5 L622.8,759.7 L623.8,758.0 L624.7,756.2 L625.7,754.5 L626.7,752.7 L627.7,751.0 L628.6,749.3 L629.6,747.5 L630.6,745.8 L631.6,744.0 L632.6,742.3 L633.5,740.5 L634.5,738.8 L635.5,737.0 L636.5,735.3 L637.5,733.6 L638.4,731.8 L639.4,730.1 L640.4,728.3 L641.4,726.6 L642.3,724.8 L643.3,723.1 L644.3,721.3 L645.3,719.6 L646.2,717.8 L647.2,716.1 L648.2,714.3 L649.1,712.6 L650.1,710.8 L651.1,709.1 L652.1,707.3 L653.0,705.6 L654.0,703.8 L655.0,702.1 L656.0,700.4 L657.0,698.6 L658.0,696.9 L659.0,695.1 L660.0,693.4 L661.0,691.7 L662.0,690.0 L663.0,688.2 L664.0,686.5 L665.0,684.8 L666.0,683.1 L667.0,681.3 L668.1,679.6 L669.1,677.9 L670.1,676.2 L671.2,674.5 L672.2,672.8 L673.3,671.1 L674.3,669.4 L675.4,667.7 L676.4,666.0 L677.5,664.3 L678.6,662.6 L679.6,660.9 L680.7,659.3 L681.8,657.6 L682.9,655.9 L684.0,654.2 L685.1,652.6 L686.2,650.9 L687.3,649.2 L688.4,647.6 L689.5,645.9 L690.7,644.3 L691.8,642.6 L692.9,641.0 L694.1,639.3 L695.2,637.7 L696.4,636.0 L697.5,634.4 L698.7,632.7 L699.8,631.1 L701.0,629.5 L702.1,627.8 L703.3,626.2 L704.5,624.6 L705.7,623.0 L706.9,621.4 L708.1,619.8 L709.3,618.1 L710.5,616.6 L711.7,615.0 L712.9,613.4 L714.1,611.8 L715.4,610.2 L716.6,608.7 L717.9,607.1 L719.1,605.5 L720.4,604.0 L721.6,602.4 L722.9,600.9 L724.2,599.4 L725.5,597.8 L726.8,596.3 L728.1,594.8 L729.4,593.3 L730.7,591.8 L732.1,590.3 L733.4,588.8 L734.7,587.4 L736.1,585.9 L737.5,584.4 L738.8,583.0 L740.2,581.5 L741.6,580.1 L743.0,578.7 L744.4,577.3 L745.8,575.9 L747.2,574.5 L748.7,573.1 L750.1,571.7 L751.6,570.4 L753.0,569.0 L754.5,567.7 L756.0,566.3 L757.5,565.0 L759.0,563.7 L760.5,562.4 L762.0,561.1 L763.6,559.8 L765.1,558.6 L766.7,557.3 L768.2,556.1 L769.8,554.8 L771.4,553.6 L773.0,552.4 L774.6,551.2 L776.2,550.0 L777.8,548.9 L779.4,547.7 L781.0,546.6 L782.7,545.4 L784.3,544.3 L786.0,543.2 L787.6,542.0 L789.3,540.9 L791.0,539.8 L792.7,538.8 L794.3,537.7 L796.0,536.6 L797.7,535.5 L799.4,534.5 L801.1,533.4 L802.8,532.4 L804.6,531.3 L806.3,530.3 L808.0,529.3 L809.7,528.3 L811.5,527.3 L813.2,526.3 L814.9,525.3 L816.7,524.3 L818.4,523.3 L820.2,522.3 L821.9,521.3 L823.7,520.4 L825.4,519.4 L827.2,518.5 L828.9,517.5 L830.7,516.6 L832.5,515.7 L834.3,514.8 L836.1,513.9 L837.8,513.0 L839.6,512.1 L841.4,511.2 L843.2,510.3 L845.0,509.5 L846.9,508.6 L848.7,507.8 L850.5,506.9 L852.3,506.1 L854.1,505.3 L856.0,504.5 L857.8,503.7 L859.6,502.9 L861.5,502.1 L863.3,501.3 L865.1,500.5 L867.0,499.7 L868.8,499.0 L870.7,498.2 L872.5,497.5 L874.4,496.7 L876.2,496.0 L878.1,495.3 L880.0,494.6 L881.8,493.9 L883.7,493.2 L885.6,492.5 L887.5,491.9 L889.4,491.2 L891.2,490.6 L893.1,489.9 L895.0,489.3 L896.9,488.7 L898.8,488.0 L900.7,487.4 L902.6,486.8 L904.5,486.2 L906.4,485.6 L908.4,485.0 L910.3,484.5 L912.2,483.9 L914.1,483.3 L916.0,482.7 L917.9,482.2 L919.8,481.6 L921.8,481.1 L923.7,480.5 L925.6,480.0 L927.5,479.4 L929.5,478.9 L931.4,478.3 L933.3,477.8 L935.2,477.2 L937.2,476.7 L939.1,476.2 L941.0,475.6 L943.0,475.1 L944.9,474.6 L946.8,474.0 L948.7,473.5 L950.7,472.9 L952.6,472.4 L954.5,471.9 L956.4,471.3 L958.4,470.8 L960.3,470.2 L962.2,469.7 L964.1,469.1 L966.1,468.5 L968.0,468.0 L969.9,467.4 L971.8,466.9 L973.7,466.3 L975.6,465.7 L977.6,465.2 L979.5,464.6 L981.4,464.0 L983.3,463.4 L985.2,462.9 L987.1,462.3 L989.0,461.7 L991.0,461.1 L992.9,460.5 L994.8,459.9 L996.7,459.3 L998.6,458.7 L1000.5,458.1 L1002.4,457.5 L1004.3,456.9 L1006.2,456.3 L1008.1,455.7 L1010.0,455.1 L1011.9,454.5 L1013.8,453.9 L1015.8,453.3 L1017.7,452.7 L1019.6,452.1 L1021.5,451.5 L1023.4,450.9 L1025.3,450.2 L1027.2,449.6 L1029.1,449.0 L1031.0,448.4 L1032.9,447.8 L1034.8,447.2 L1036.7,446.6 L1038.6,446.0 L1040.5,445.3 L1042.4,444.7 L1044.3,444.1 L1046.2,443.5 L1048.1,442.9 L1050.0,442.3 L1051.9,441.7 L1053.8,441.0 L1055.7,440.4 L1057.6,439.8 L1059.5,439.2 L1061.4,438.5 L1063.3,437.9 L1065.2,437.2 L1067.1,436.6 L1069.1,435.9 L1071.0,435.2 L1072.9,434.6 L1074.8,433.9 L1076.7,433.2 L1078.6,432.5 L1080.5,431.9 L1082.4,431.2 L1084.3,430.6 L1086.2,429.9 L1088.1,429.3 L1090.0,428.7 L1091.9,428.1 L1093.8,427.5 L1095.7,426.9 L1097.6,426.3 L1099.6,425.7 L1101.5,425.1 L1103.4,424.5 L1105.3,423.9 L1107.2,423.3 L1109.1,422.8 L1111.0,422.2 L1113.0,421.6 L1114.9,421.0 L1116.8,420.4 L1118.7,419.9 L1120.6,419.3 L1122.5,418.7 L1124.4,418.1 L1126.3,417.5 L1128.2,416.9 L1130.2,416.3 L1132.1,415.7 L1134.0,415.1 L1135.9,414.5 L1137.8,413.9 L1139.7,413.3 L1141.6,412.7 L1143.5,412.1 L1145.4,411.5 L1147.3,410.9 L1149.2,410.3 L1151.1,409.7 L1153.0,409.1 L1154.9,408.4 L1156.8,407.8 L1158.7,407.2 L1160.6,406.6 L1162.5,406.0 L1164.4,405.4 L1166.3,404.7 L1168.2,404.1 L1170.1,403.5 L1172.0,402.9 L1173.9,402.3 L1175.8,401.6 L1177.7,401.0 L1179.6,400.4 L1181.5,399.8 L1183.4,399.2 L1185.3,398.5 L1187.2,397.9 L1189.1,397.3 L1191.0,396.7 L1192.9,396.0 L1194.8,395.4 L1196.7,394.8 L1198.6,394.2 L1200.5,393.6 L1202.4,393.0 L1204.3,392.3 L1206.2,391.7 L1208.1,391.1 L1210.0,390.5 L1212.0,389.9 L1213.9,389.3 L1215.8,388.7 L1217.7,388.1 L1219.6,387.5 L1221.5,386.9 L1223.4,386.3 L1225.3,385.7 L1227.2,385.1 L1229.1,384.6 L1231.1,384.0 L1233.0,383.4 L1234.9,382.9 L1236.8,382.3 L1238.7,381.8 L1240.7,381.3 L1242.6,380.7 L1244.5,380.2 L1246.5,379.7 L1248.4,379.2 L1250.3,378.7 L1252.3,378.2 L1254.2,377.7 L1256.1,377.2 L1258.1,376.8 L1260.0,376.3 L1262.0,375.8 L1263.9,375.4 L1265.9,374.9 L1267.8,374.5 L1269.8,374.0 L1271.7,373.6 L1273.7,373.1 L1275.6,372.7 L1277.6,372.2 L1279.5,371.8 L1281.5,371.3 L1283.4,370.9 L1285.4,370.5 L1287.3,370.0 L1289.3,369.6 L1291.3,369.2 L1293.2,368.8 L1295.2,368.3 L1297.1,367.9 L1299.1,367.5 L1301.1,367.1 L1303.0,366.7 L1305.0,366.3 L1306.9,365.9 L1308.9,365.5 L1310.9,365.1 L1312.8,364.7 L1314.8,364.3 L1316.8,363.9 L1318.7,363.6 L1320.7,363.2 L1322.6,362.8 L1324.6,362.4 L1326.6,362.0 L1328.5,361.7 L1330.5,361.3 L1332.4,360.9 L1334.4,360.5 L1336.4,360.2 L1338.3,359.8 L1340.3,359.4 L1342.2,359.1 L1344.2,358.7 L1346.2,358.4 L1348.1,358.0 L1350.1,357.6 L1352.0,357.3 L1354.0,356.9 L1355.9,356.6 L1357.9,356.2 L1359.8,355.9 L1361.8,355.5 L1363.7,355.2 L1365.7,354.8 L1367.6,354.5 L1369.6,354.1 L1371.5,353.8 L1373.5,353.4 L1375.4,353.1 L1376.0,352.8" stroke="#0000ff"/>
<path d="M229.0,954.3 L231.0,954.3 L233.0,954.3 L235.0,954.3 L237.0,954.3 L239.0,954.3 L241.0,954.3 L243.0,954.3 L245.0,954.3 L247.0,954.3 L249.0,954.3 L251.0,954.3 L253.0,954.3 L255.0,954.3 L257.0,954.3 L259.0,954.3 L261.0,954.3 L263.0,954.3 L265.0,954.3 L267.0,954.3 L269.0,954.3 L271.0,954.3 L273.0,954.3 L275.0,954.3 L277.0,954.3 L279.0,954.3 L281.0,954.3 L283.0,954.3 L285.0,954.3 L287.0,954.3 L289.0,954.3 L291.0,954.3 L293.0,954.3 L295.0,954.3 L297.0,954.3 L299.0,954.3 L301.0,954.3 L303.0,954.3 L305.0,954.3 L307.0,954.3 L309.0,954.3 L311.0,954.3 L313.0,954.3 L315.0,954.3 L317.0,954.3 L319.0,954.3 L321.0,954.3 L323.0,954.3 L325.0,954.3 L327.0,954.3 L329.0,954.3 L331.0,954.3 L333.0,954.3 L335.0,954.3 L337.0,954.3 L339.0,954.3 L341.0,954.3 L343.0,954.3 L345.0,954.3 L347.0,954.3 L349.0,954.3 L351.0,954.3 L353.0,954.3 L355.0,954.3 L357.0,954.3 L359.0,954.3 L361.0,954.3 L363.0,954.3 L365.0,954.3 L367.0,954.3 L369.0,954.3 L371.0,954.3 L373.0,954.3 L375.0,954.3 L377.0,954.3 L379.0,954.3 L381.0,954.3 L383.0,954.3 L385.0,954.3 L387.0,954.3 L389.0,954.3 L391.0,954.3 L393.0,954.3 L395.0,954.3 L397.0,954.3 L399.0,954.3 L401.0,954.3 L403.0,954.3 L405.0,954.3 L407.0,954.3 L409.0,954.3 L411.0,954.3 L413.0,954.3 L415.0,954.3 L417.0,954.3 L419.0,954.3 L421.0,954.3 L423.0,954.3 L425.0,954.3 L427.0,954.3 L429.0,954.3 L431.0,954.3 L433.0,954.3 L435.0,954.3 L437.0,954.3 L439.0,954.3 L441.0,954.3 L443.0,954.3 L445.0,954.3 L447.0,954.3 L449.0,954.3 L451.0,954.3 L453.0,954.3 L455.0,954.3 L457.0,954.3 L459.0,954.3 L461.0,954.3 L463.0,954.3 L465.0,954.3 L467.0,954.3 L469.0,954.3 L471.0,954.3 L473.0,954.3 L475.0,954.3 L477.0,954.3 L479.0,954.3 L481.0,954.3 L483.0,954.3 L485.0,954.3 L487.0,954.3 L489.0,954.3 L491.0,954.3 L493.0,954.3 L495.0,954.3 L497.0,954.3 L499.0,954.3 L501.0,954.3 L503.0,954.3 L505.0,954.3 L507.0,954.3 L509.0,954.3 L511.0,954.3 L513.0,954.3 L515.0,954.3 L517.0,954.3 L519.0,954.3 L521.0,954.3 L523.0,954.2 L525.0,954.2 L527.0,954.0 L529.0,953.9 L531.0,953.8 L533.0,953.6 L535.0,953.4 L537.0,953.2 L538.9,953.0 L540.9,952.8 L542.9,952.5 L544.9,952.3 L546.9,952.0 L548.9,951.6 L550.8,951.3 L552.8,950.8 L554.7,950.4 L556.6,949.8 L558.5,949.2 L560.4,948.6 L562.3,947.8 L564.1,947.0 L565.9,946.2 L567.7,945.2 L569.4,944.2 L571.1,943.2 L572.8,942.1 L574.4,941.0 L576.1,939.8 L577.7,938.6 L579.2,937.4 L580.8,936.1 L582.3,934.8 L583.8,933.5 L585.3,932.1 L586.7,930.8 L588.2,929.4 L589.6,928.0 L591.0,926.6 L592.4,925.2 L593.8,923.8 L595.2,922.3 L596.5,920.9 L597.9,919.5 L599.3,918.0 L600.6,916.6 L602.0,915.1 L603.3,913.7 L604.7,912.2 L606.0,910.7 L607.3,909.3 L608.6,907.7 L609.9,906.2 L611.1,904.7 L612.4,903.1 L613.7,901.5 L614.9,899.9 L616.1,898.3 L617.3,896.7 L618.6,895.1 L619.8,893.5 L621.0,891.9 L622.2,890.2 L623.3,888.6 L624.5,887.0 L625.7,885.4 L626.9,883.7 L628.1,882.1 L629.2,880.5 L630.4,878.8 L631.6,877.2 L632.7,875.6 L633.9,873.9 L635.0,872.3 L636.2,870.6 L637.3,869.0 L638.5,867.4 L639.6,865.7 L640.8,864.1 L641.9,862.4 L643.0,860.8 L644.2,859.1 L645.3,857.5 L646.5,855.8 L647.6,854.2 L648.7,852.5 L649.9,850.9 L651.0,849.2 L652.1,847.6 L653.3,845.9 L654.4,844.3 L655.5,842.6 L656.7,841.0 L657.8,839.4 L658.9,837.7 L660.1,836.1 L661.2,834.4 L662.4,832.8 L663.5,831.1 L664.6,829.5 L665.8,827.8 L666.9,826.2 L668.0,824.5 L669.2,822.9 L670.3,821.2 L671.4,819.6 L672.5,817.9 L673.7,816.3 L674.8,814.6 L675.9,812.9 L677.0,811.3 L678.1,809.6 L679.2,808.0 L680.3,806.3 L681.4,804.6 L682.5,803.0 L683.6,801.3 L684.7,799.6 L685.8,797.9 L686.9,796.3 L688.0,794.6 L689.1,792.9 L690.1,791.2 L691.2,789.5 L692.3,787.8 L693.4,786.2 L694.4,784.5 L695.5,782.8 L696.6,781.1 L697.6,779.4 L698.7,777.7 L699.8,776.0 L700.8,774.3 L701.9,772.6 L703.0,770.9 L704.0,769.3 L705.1,767.6 L706.2,765.9 L707.2,764.2 L708.3,762.5 L709.3,760.8 L710.4,759.1 L711.4,757.4 L712.5,755.7 L713.6,754.0 L714.6,752.3 L715.7,750.6 L716.7,748.9 L717.8,747.2 L718.9,745.5 L719.9,743.8 L721.0,742.1 L722.1,740.4 L723.1,738.7 L724.2,737.0 L725.3,735.4 L726.4,733.7 L727.4,732.0 L728.5,730.3 L729.6,728.6 L730.7,727.0 L731.8,725.3 L732.9,723.6 L734.0,722.0 L735.1,720.3 L736.3,718.7 L737.4,717.0 L738.5,715.4 L739.7,713.7 L740.8,712.1 L742.0,710.5 L743.1,708.8 L744.3,707.2 L745.5,705.6 L746.7,704.0 L747.9,702.4 L749.1,700.8 L750.3,699.3 L751.6,697.7 L752.8,696.1 L754.1,694.6 L755.3,693.0 L756.6,691.5 L757.9,689.9 L759.2,688.4 L760.4,686.9 L761.7,685.3 L763.0,683.8 L764.3,682.3 L765.6,680.7 L766.9,679.2 L768.2,677.7 L769.4,676.2 L770.7,674.6 L772.0,673.1 L773.3,671.6 L774.6,670.1 L775.9,668.5 L777.2,667.0 L778.5,665.5 L779.8,664.0 L781.1,662.4 L782.4,660.9 L783.7,659.4 L785.0,657.9 L786.3,656.3 L787.6,654.8 L788.9,653.3 L790.2,651.8 L791.5,650.3 L792.8,648.8 L794.1,647.3 L795.4,645.8 L796.7,644.3 L798.1,642.8 L799.4,641.3 L800.7,639.8 L802.1,638.3 L803.4,636.8 L804.7,635.3 L806.1,633.8 L807.4,632.4 L808.8,630.9 L810.1,629.4 L811.5,628.0 L812.8,626.5 L814.2,625.1 L815.5,623.6 L816.9,622.2 L818.3,620.7 L819.7,619.3 L821.0,617.8 L822.4,616.4 L823.8,615.0 L825.2,613.5 L826.6,612.1 L828.0,610.7 L829.4,609.3 L830.8,607.9 L832.2,606.5 L833.7,605.1 L835.1,603.7 L836.5,602.3 L838.0,601.0 L839.4,599.6 L840.9,598.2 L842.3,596.9 L843.8,595.5 L845.3,594.2 L846.8,592.9 L848.3,591.5 L849.8,590.2 L851.3,588.8 L852.8,587.5 L854.3,586.2 L855.8,584.9 L857.4,583.6 L858.9,582.4 L860.5,581.1 L862.1,579.9 L863.7,578.7 L865.3,577.5 L866.9,576.3 L868.5,575.2 L870.2,574.0 L871.8,572.9 L873.5,571.8 L875.2,570.7 L876.8,569.6 L878.5,568.6 L880.2,567.5 L881.9,566.5 L883.6,565.5 L885.3,564.5 L887.0,563.5 L888.8,562.5 L890.5,561.5 L892.2,560.5 L893.9,559.5 L895.7,558.6 L897.4,557.6 L899.1,556.7 L900.9,555.7 L902.6,554.8 L904.4,553.9 L906.2,552.9 L907.9,552.0 L909.7,551.1 L911.4,550.1 L913.2,549.2 L915.0,548.2 L916.8,547.2 L918.5,546.2 L920.3,545.2 L922.1,544.2 L923.9,543.2 L925.7,542.1 L927.4,541.1 L929.2,540.1 L931.0,539.2 L932.8,538.2 L934.6,537.3 L936.4,536.4 L938.2,535.5 L940.0,534.6 L941.8,533.8 L943.6,532.9 L945.4,532.1 L947.2,531.3 L949.0,530.5 L950.9,529.7 L952.7,528.9 L954.5,528.2 L956.3,527.4 L958.2,526.6 L960.0,525.8 L961.8,525.1 L963.6,524.3 L965.5,523.5 L967.3,522.7 L969.1,522.0 L970.9,521.2 L972.7,520.4 L974.5,519.6 L976.4,518.8 L978.2,518.0 L980.0,517.3 L981.8,516.5 L983.6,515.7 L985.4,514.9 L987.2,514.1 L989.1,513.3 L990.9,512.5 L992.7,511.6 L994.5,510.6 L996.3,509.6 L998.1,508.6 L999.9,507.8 L1001.7,507.5 L1003.5,507.6 L1005.3,508.0 L1007.1,507.9 L1008.9,506.9 L1010.7,505.2 L1012.5,503.5 L1014.3,502.2 L1016.1,501.2 L1017.9,500.3 L1019.7,499.5 L1021.5,498.7 L1023.3,497.9 L1025.1,497.1 L1026.9,496.3 L1028.8,495.5 L1030.6,494.7 L1032.4,493.9 L1034.2,493.1 L1036.0,492.3 L1037.8,491.5 L1039.6,490.6 L1041.4,489.8 L1043.2,489.0 L1045.0,488.2 L1046.8,487.3 L1048.6,486.5 L1050.4,485.7 L1052.2,484.8 L1054.1,483.9 L1055.9,483.1 L1057.7,482.2 L1059.5,481.3 L1061.3,480.3 L1063.1,479.3 L1064.8,478.3 L1066.6,477.3 L1068.4,476.2 L1070.2,475.1 L1072.0,474.0 L1073.8,472.8 L1075.6,471.7 L1077.4,470.5 L1079.2,469.4 L1080.9,468.3 L1082.7,467.2 L1084.5,466.1 L1086.3,465.1 L1088.1,464.1 L1089.9,463.2 L1091.7,462.3 L1093.5,461.4 L1095.3,460.5 L1097.1,459.6 L1099.0,458.8 L1100.8,458.0 L1102.6,457.1 L1104.4,456.3 L1106.3,455.5 L1108.1,454.6 L1109.9,453.8 L1111.7,453.0 L1113.5,452.2 L1115.4,451.4 L1117.2,450.5 L1119.0,449.7 L1120.8,448.9 L1122.7,448.1 L1124.5,447.2 L1126.3,446.4 L1128.1,445.6 L1129.9,444.7 L1131.7,443.9 L1133.6,443.1 L1135.4,442.2 L1137.2,441.4 L1139.0,440.6 L1140.8,439.8 L1142.6,438.9 L1144.5,438.1 L1146.3,437.2 L1148.1,436.4 L1149.9,435.6 L1151.7,434.7 L1153.5,433.8 L1155.3,433.0 L1157.1,432.1 L1158.9,431.2 L1160.7,430.4 L1162.5,429.5 L1164.3,428.6 L1166.1,427.7 L1167.9,426.8 L1169.7,425.9 L1171.5,425.0 L1173.2,424.1 L1175.0,423.2 L1176.8,422.3 L1178.6,421.4 L1180.4,420.5 L1182.2,419.6 L1183.9,418.7 L1185.7,417.7 L1187.5,416.8 L1189.3,415.9 L1191.1,415.0 L1192.9,414.1 L1194.7,413.2 L1196.4,412.3 L1198.2,411.4 L1200.0,410.5 L1201.8,409.6 L1203.6,408.8 L1205.4,407.9 L1207.2,407.0 L1209.0,406.1 L1210.8,405.2 L1212.6,404.3 L1214.4,403.5 L1216.2,402.6 L1218.0,401.7 L1219.8,400.9 L1221.6,400.0 L1223.4,399.2 L1225.2,398.3 L1227.0,397.5 L1228.8,396.7 L1230.7,395.9 L1232.5,395.0 L1234.3,394.2 L1236.1,393.4 L1238.0,392.6 L1239.8,391.8 L1241.6,391.0 L1243.5,390.2 L1245.3,389.5 L1247.2,388.7 L1249.0,387.9 L1250.9,387.2 L1252.7,386.4 L1254.6,385.7 L1256.4,384.9 L1258.3,384.2 L1260.1,383.5 L1262.0,382.7 L1263.9,382.0 L1265.7,381.3 L1267.6,380.6 L1269.5,379.9 L1271.3,379.2 L1273.2,378.5 L1275.1,377.8 L1277.0,377.1 L1278.9,376.5 L1280.7,375.8 L1282.6,375.1 L1284.5,374.5 L1286.4,373.8 L1288.3,373.1 L1290.2,372.5 L1292.1,371.9 L1294.0,371.2 L1295.9,370.6 L1297.8,370.0 L1299.7,369.3 L1301.6,368.7 L1303.5,368.1 L1305.4,367.5 L1307.3,366.9 L1309.2,366.3 L1311.2,365.7 L1313.1,365.1 L1315.0,364.5 L1316.9,364.0 L1318.8,363.4 L1320.7,362.8 L1322.6,362.2 L1324.6,361.7 L1326.5,361.1 L1328.4,360.6 L1330.3,360.0 L1332.3,359.5 L1334.2,358.9 L1336.1,358.4 L1338.0,357.9 L1339.9,357.3 L1341.9,356.8 L1343.8,356.3 L1345.7,355.8 L1347.7,355.3 L1349.6,354.8 L1351.5,354.2 L1353.4,353.7 L1355.4,353.2 L1357.3,352.8 L1359.2,352.3 L1361.2,351.8 L1363.1,351.3 L1365.0,350.8 L1366.9,350.3 L1368.9,349.9 L1370.8,349.4 L1372.7,348.9 L1374.7,348.5 L1376.0,348.0" stroke="#ff8000"/>
</g>
<text transform="translate(267.6,146.0) scale(1.0,1.02)" font-size="60" text-anchor="start" fill="#0000ff">Ultra Violet</text>
<text transform="translate(878.5,136.0) scale(1.003,1.02)" font-size="60" text-anchor="start" fill="#0000ff">Visible Light</text>
<text class="b" transform="translate(257.8,217.3) scale(1.0,1.06)" font-size="34.9" text-anchor="start" fill="#000060">UV-C</text>
<text class="b" transform="translate(384.3,217.3) scale(1.0,1.06)" font-size="34.9" text-anchor="start" fill="#003a78">UV-B</text>
<text class="b" transform="translate(501.2,217.3) scale(1.0,1.06)" font-size="34.9" text-anchor="start" fill="#1e0046">UV-A</text>
<text class="b" transform="translate(194.8,967.1) scale(1.01,1.055)" font-size="58" text-anchor="end" fill="#000">0</text>
<text class="b" transform="translate(194.8,799.4) scale(1.01,1.055)" font-size="58" text-anchor="end" fill="#000">20</text>
<text class="b" transform="translate(194.8,631.7) scale(1.01,1.055)" font-size="58" text-anchor="end" fill="#000">40</text>
<text class="b" transform="translate(194.8,464.0) scale(1.01,1.055)" font-size="58" text-anchor="end" fill="#000">60</text>
<text class="b" transform="translate(194.8,296.3) scale(1.01,1.055)" font-size="58" text-anchor="end" fill="#000">80</text>
<text class="b" transform="translate(194.8,128.6) scale(1.01,1.055)" font-size="58" text-anchor="end" fill="#000">100</text>
<text class="b" transform="translate(228.2,1116.8) scale(1.01,1.045)" font-size="58" text-anchor="middle" fill="#000">200</text>
<text class="b" transform="translate(419.1,1116.8) scale(1.01,1.045)" font-size="58" text-anchor="middle" fill="#000">300</text>
<text class="b" transform="translate(610.1,1116.8) scale(1.01,1.045)" font-size="58" text-anchor="middle" fill="#000">400</text>
<text class="b" transform="translate(801.0,1116.8) scale(1.01,1.045)" font-size="58" text-anchor="middle" fill="#000">500</text>
<text class="b" transform="translate(991.9,1116.8) scale(1.01,1.045)" font-size="58" text-anchor="middle" fill="#000">600</text>
<text class="b" transform="translate(1182.9,1116.8) scale(1.01,1.045)" font-size="58" text-anchor="middle" fill="#000">700</text>
<text class="b" transform="translate(1373.8,1116.8) scale(1.01,1.045)" font-size="58" text-anchor="middle" fill="#000">800</text>
<text class="b" transform="translate(801.8,1208.0) scale(0.995,1.0)" font-size="70" text-anchor="middle" fill="#000">Wavelength (nm)</text>
<text class="b" transform="translate(94.6,547.3) rotate(-90) scale(0.999,1.05)" font-size="72" text-anchor="middle" fill="#000">Transmittance (%)</text>
<line x1="813" y1="713.8" x2="945" y2="713.8" stroke="#000" stroke-width="10.5" stroke-linecap="round"/>
<text class="b" transform="translate(961.3,734.4) scale(1.003,1.03)" font-size="58" text-anchor="start" fill="#000">pCS</text>
<line x1="813" y1="789.2" x2="945" y2="789.2" stroke="#ff0000" stroke-width="10.5" stroke-linecap="round"/>
<text class="b" transform="translate(961.3,809.8) scale(1.003,1.03)" font-size="58" text-anchor="start" fill="#ff0000">pCS-0.4PBLO</text>
<line x1="813" y1="863.8" x2="945" y2="863.8" stroke="#0000ff" stroke-width="10.5" stroke-linecap="round"/>
<text class="b" transform="translate(961.3,884.4) scale(1.003,1.03)" font-size="58" text-anchor="start" fill="#0000ff">pCS-1PBLO</text>
<line x1="813" y1="938.8" x2="945" y2="938.8" stroke="#ff8000" stroke-width="10.5" stroke-linecap="round"/>
<text class="b" transform="translate(961.3,959.4) scale(1.003,1.03)" font-size="58" text-anchor="start" fill="#ff8000">pCS-1.2PBLO</text>
</svg>
</body></html>
